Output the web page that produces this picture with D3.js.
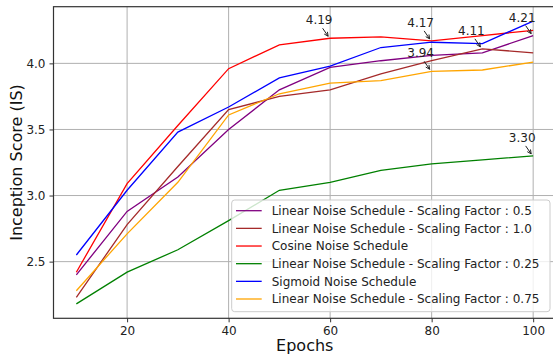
<!DOCTYPE html>
<html><head><meta charset="utf-8">
<script src="https://cdn.jsdelivr.net/npm/d3@7"></script>
<style>body{margin:0;background:#fff}svg{display:block}text{font-family:"DejaVu Sans",sans-serif}</style>
</head><body><svg id="c" width="553" height="358"></svg>
<script>
const epochs = [10,20,30,40,50,60,70,80,90,100];
const seriesNames = [
  "Linear Noise Schedule - Scaling Factor : 0.5",
  "Linear Noise Schedule - Scaling Factor : 1.0",
  "Cosine Noise Schedule",
  "Linear Noise Schedule - Scaling Factor : 0.25",
  "Sigmoid Noise Schedule",
  "Linear Noise Schedule - Scaling Factor : 0.75"
];
const seriesColors = ["#800080","#a52a2a","#ff0000","#008000","#0000ff","#ffa500"];
const linear05  = [2.40,2.88,3.14,3.50,3.80,3.97,4.02,4.06,4.08,4.21];
const linear10  = [2.23,2.78,3.22,3.65,3.75,3.80,3.92,4.02,4.11,4.08];
const cosine    = [2.42,3.09,3.53,3.96,4.14,4.19,4.20,4.17,4.21,4.25];
const linear025 = [2.18,2.42,2.59,2.81,3.04,3.10,3.19,3.24,3.27,3.30];
const sigmoid   = [2.55,3.04,3.48,3.67,3.89,3.98,4.12,4.16,4.15,4.32];
const linear075 = [2.28,2.71,3.10,3.61,3.77,3.85,3.87,3.94,3.95,4.01];
const seriesValues = [linear05, linear10, cosine, linear025, sigmoid, linear075];
const xTicks = [20,40,60,80,100];
const yTicks = [2.5,3.0,3.5,4.0];
const annX = [60,80,80,90,100,100];
const annV = [4.19,4.17,3.94,4.11,4.21,3.30];
const annText = ["4.19","4.17","3.94","4.11","4.21","3.30"];

const svg = d3.select("#c");
const L=53.5, R=556, T=6.7, B=318.3;
const x = d3.scaleLinear().domain([5.5,104.5]).range([L,R]);
const y = d3.scaleLinear().domain([2.0712,4.4288]).range([B,T]);

// grid
const g = svg.append("g");
g.selectAll(".gx").data(xTicks).join("line")
  .attr("x1",d=>x(d)).attr("x2",d=>x(d)).attr("y1",T).attr("y2",B)
  .attr("stroke","#b0b0b0").attr("stroke-width",1);
g.selectAll(".gy").data(yTicks).join("line")
  .attr("y1",d=>y(d)).attr("y2",d=>y(d)).attr("x1",L).attr("x2",R)
  .attr("stroke","#b0b0b0").attr("stroke-width",1);

// lines
const line = d3.line().x((d,i)=>x(epochs[i])).y(d=>y(d));
seriesValues.forEach((vals,k)=>{
  svg.append("path").datum(vals).attr("d",line).attr("fill","none")
    .attr("stroke",seriesColors[k]).attr("stroke-width",1.3).attr("stroke-linejoin","miter");
});

// axes
const xAxis = d3.axisBottom(x).tickValues(xTicks).tickSize(4).tickPadding(4).tickFormat(d3.format("d"));
const yAxis = d3.axisLeft(y).tickValues(yTicks).tickSize(4).tickPadding(4).tickFormat(d3.format(".1f"));
const gx = svg.append("g").attr("transform",`translate(0,${B})`).call(xAxis);
const gy = svg.append("g").attr("transform",`translate(${L},0)`).call(yAxis);
[gx,gy].forEach(a=>{
  a.select(".domain").remove();
  a.selectAll("line").attr("stroke","#333").attr("stroke-width",1);
  a.selectAll("text").attr("font-size",12).attr("fill","#222").attr("font-family","DejaVu Sans");
});
gy.selectAll("text").attr("dy","0.35em");
// spines
svg.append("rect").attr("x",L).attr("y",T).attr("width",R-L).attr("height",B-T)
  .attr("fill","none").attr("stroke","#333").attr("stroke-width",1.2);

// annotations
const ann = svg.append("g");
annX.forEach((ex,i)=>{
  const px=x(ex), py=y(annV[i]);
  ann.append("text").attr("x",px-11).attr("y",py-14).attr("text-anchor","middle")
    .attr("font-size",12).attr("fill","#222").text(annText[i]);
  const x0=px-7.5, y0=py-10, x1=px-2, y1=py-2;
  const ang=Math.atan2(y1-y0,x1-x0), hl=4.5, hw=0.45;
  ann.append("path").attr("d",`M${x0},${y0}L${x1},${y1}M${x1-hl*Math.cos(ang-hw)},${y1-hl*Math.sin(ang-hw)}L${x1},${y1}L${x1-hl*Math.cos(ang+hw)},${y1-hl*Math.sin(ang+hw)}`)
    .attr("fill","none").attr("stroke","#222").attr("stroke-width",1);
});

// legend
const lg = svg.append("g");
lg.append("rect").attr("x",231.7).attr("y",200).attr("width",318.3).attr("height",111.7).attr("rx",3)
  .attr("fill","#fff").attr("fill-opacity",0.8).attr("stroke","#cccccc").attr("stroke-width",1);
seriesNames.forEach((n,k)=>{
  const yy=210.7+k*17.66;
  lg.append("line").attr("x1",236).attr("x2",261.7).attr("y1",yy).attr("y2",yy)
    .attr("stroke",seriesColors[k]).attr("stroke-width",1.3);
  lg.append("text").attr("x",271.7).attr("y",yy).attr("dy","0.36em").attr("font-size",12).attr("fill","#222").text(n);
});

// axis labels
svg.append("text").attr("x",(L+R)/2).attr("y",351).attr("text-anchor","middle").attr("font-size",16).attr("fill","#111").text("Epochs");
svg.append("text").attr("transform",`translate(22,${(T+B)/2}) rotate(-90)`).attr("text-anchor","middle").attr("font-size",16).attr("fill","#111").text("Inception Score (IS)");
</script></body></html>
